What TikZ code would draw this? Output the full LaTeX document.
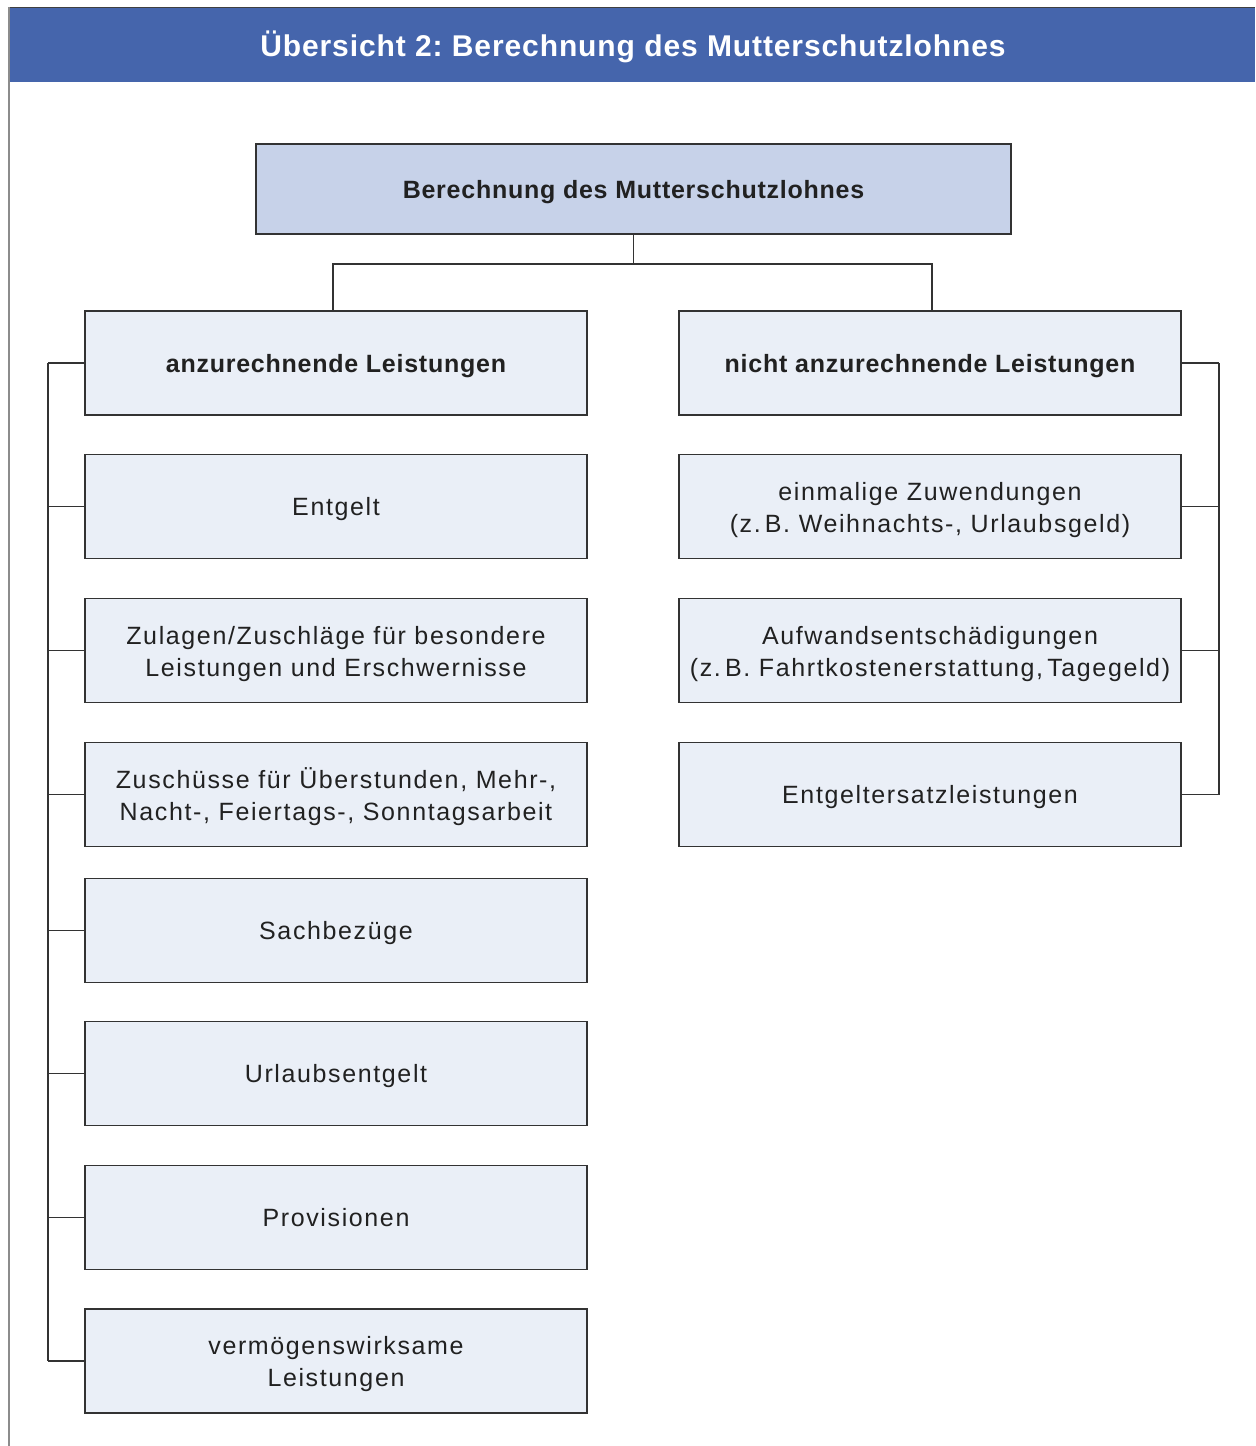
\documentclass[tikz,border=0pt]{standalone}
\usepackage{fontspec}
\setmainfont{Liberation Sans}
\frenchspacing
\newcommand{\boxstrut}{\rule[-3pt]{0pt}{15pt}}
\newcommand{\topstrut}{\rule[-3pt]{0pt}{15.5pt}}
\begin{document}
\begin{tikzpicture}[x=0.5pt,y=-0.5pt,
  box/.style={draw=black!80,line width=0.6pt,fill=boxfill,minimum width=251pt,minimum height=52pt,inner sep=0pt,align=center,
    font=\fontsize{12.5pt}{16pt}\selectfont\addfontfeatures{LetterSpace=6.5},text=black!87,
    execute at begin node=\boxstrut, execute at end node=\boxstrut},
  topbox/.style={box,fill=topfill,minimum width=377.5pt,minimum height=45pt,
    font=\bfseries\fontsize{12.5pt}{15pt}\selectfont\addfontfeatures{LetterSpace=3}},
  headbox/.style={box,font=\bfseries\fontsize{12.5pt}{15pt}\selectfont\addfontfeatures{LetterSpace=3}},
  conn/.style={draw=black!80,line width=0.6pt}]
\definecolor{headblue}{HTML}{4565AC}
\definecolor{topfill}{HTML}{C7D2E9}
\definecolor{boxfill}{HTML}{EAEFF7}
\useasboundingbox (0,0) rectangle (1255,1446);
% header
\fill[headblue] (8,7) rectangle (1255,82);
\draw[black!75,line width=0.8pt] (8,7.5) -- (1255,7.5);
\draw[black!45,line width=0.8pt] (9,7) -- (9,1446);
\node[text=white,inner sep=0pt,font=\bfseries\fontsize{15pt}{17pt}\selectfont\addfontfeatures{LetterSpace=3},
  execute at begin node=\boxstrut] (title) at (633,47) {Übersicht 2: Berechnung des Mutterschutzlohnes};
% top
\node[topbox] (top) at (633.5,189) {Berechnung des Mutterschutzlohnes};
% left column
\node[headbox] (L0) at (336,363) {anzurechnende Leistungen};
\node[box] (L1) at (336,506.5) {Entgelt};
\node[box] (L2) at (336,650.5) {\topstrut Zulagen/Zuschläge für besondere\\Leistungen und Erschwernisse\boxstrut};
\node[box] (L3) at (336,794.5) {\topstrut Zuschüsse für Überstunden, Mehr-,\\Nacht-, Feiertags-, Sonntagsarbeit\boxstrut};
\node[box] (L4) at (336,930.5) {Sachbezüge};
\node[box] (L5) at (336,1073.5) {Urlaubsentgelt};
\node[box] (L6) at (336,1217.5) {Provisionen};
\node[box] (L7) at (336,1361) {\topstrut vermögenswirksame\\Leistungen\boxstrut};
% right column
\node[headbox] (R0) at (930,363) {nicht anzurechnende Leistungen};
\node[box] (R1) at (930,506.5) {\topstrut einmalige Zuwendungen\\(z.\,B. Weihnachts-, Urlaubsgeld)\boxstrut};
\node[box] (R2) at (930,650.5) {\topstrut Aufwandsentschädigungen\\(z.\,B. Fahrtkostenerstattung,\,Tagegeld)\boxstrut};
\node[box] (R3) at (930,794.5) {Entgeltersatzleistungen};
% connectors
\coordinate (hl) at (333,264);
\coordinate (hr) at (932,264);
\draw[conn] (top.south) -- (top.south |- hl);
\draw[conn] (L0.north -| hl) -- (hl) -- (hr) -- (R0.north -| hr);
\coordinate (lx) at (48,0);
\foreach \n in {L0,L1,L2,L3,L4,L5,L6,L7}{
  \draw[conn] (\n.west) -- (\n.west -| lx);
}
\draw[conn] (L0.west -| lx) -- (L7.west -| lx);
\coordinate (rx) at (1219,0);
\foreach \n in {R0,R1,R2,R3}{
  \draw[conn] (\n.east) -- (\n.east -| rx);
}
\draw[conn] (R0.east -| rx) -- (R3.east -| rx);
\end{tikzpicture}
\end{document}
